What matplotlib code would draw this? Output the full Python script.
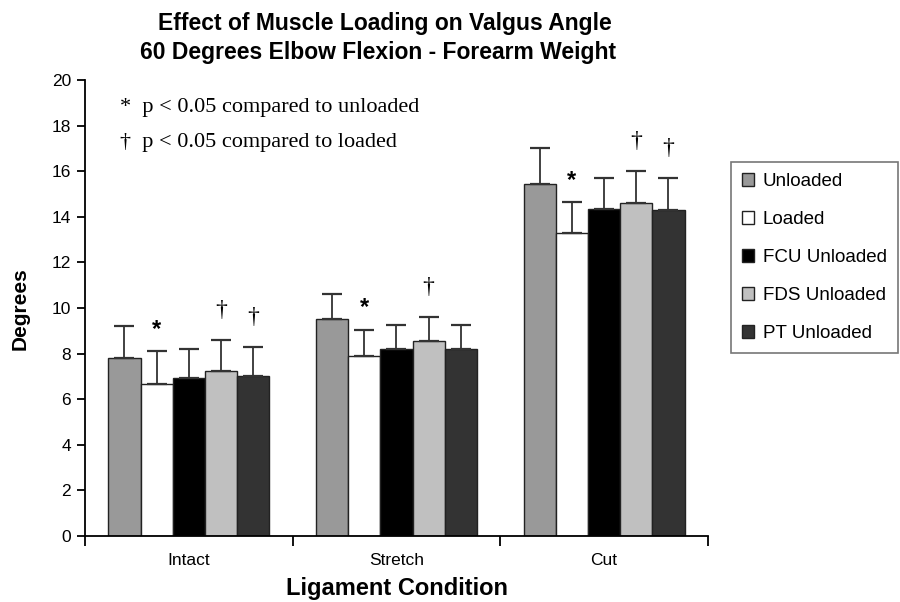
import matplotlib
matplotlib.use("Agg")
import matplotlib.pyplot as plt
import numpy as np

categories = ["Intact", "Stretch", "Cut"]
series = ["Unloaded", "Loaded", "FCU Unloaded", "FDS Unloaded", "PT Unloaded"]
means = {
    "Unloaded":     [7.8, 9.5, 15.45],
    "Loaded":       [6.65, 7.9, 13.3],
    "FCU Unloaded": [6.95, 8.2, 14.35],
    "FDS Unloaded": [7.25, 8.55, 14.6],
    "PT Unloaded":  [7.0, 8.2, 14.3],
}
errors = {
    "Unloaded":     [1.4, 1.1, 1.55],
    "Loaded":       [1.45, 1.15, 1.35],
    "FCU Unloaded": [1.25, 1.05, 1.35],
    "FDS Unloaded": [1.35, 1.05, 1.4],
    "PT Unloaded":  [1.3, 1.05, 1.4],
}
# significance markers: (category index, series index, symbol)
markers = [(0, 1, "*"), (0, 3, "†"), (0, 4, "†"),
           (1, 1, "*"), (1, 3, "†"),
           (2, 1, "*"), (2, 3, "†"), (2, 4, "†")]
colors = ["#999999", "#ffffff", "#000000", "#c0c0c0", "#333333"]
yticks = [0, 2, 4, 6, 8, 10, 12, 14, 16, 18, 20]

plt.rcParams['font.family'] = ['Liberation Sans', 'DejaVu Sans']

fig = plt.figure(figsize=(9, 6.02), dpi=100)
ax = fig.add_axes([0.0944, 0.1096, 0.6922, 0.7575])

x = np.arange(len(categories))
w = 0.155
for i, s in enumerate(series):
    pos = x + (i - 2) * w
    ax.bar(pos, means[s], width=w, color=colors[i], edgecolor="#222222",
           linewidth=1.0, label=s, zorder=2)
    ax.errorbar(pos, means[s], yerr=[np.zeros(3), errors[s]], fmt="none",
                ecolor="#333333", elinewidth=1.3, capsize=7, capthick=1.6, zorder=3)

for ci, si, sym in markers:
    top = means[series[si]][ci] + errors[series[si]][ci]
    if sym == "*":
        ax.text(x[ci] + (si - 2) * w, top + 0.95, sym, ha="center", va="center",
                fontsize=17, fontweight="bold", family=['Liberation Sans', 'DejaVu Sans'])
    else:
        ax.text(x[ci] + (si - 2) * w, top + 1.3, sym, ha="center", va="center",
                fontsize=17, family=['Liberation Serif', 'DejaVu Serif'])

ax.set_xlim(-0.5, 2.5)
ax.set_ylim(0, 20)
ax.set_yticks(yticks)
ax.set_xticks([-0.5, 0.5, 1.5, 2.5])
ax.set_xticklabels([])
ax.set_xticks(x, minor=True)
ax.set_xticklabels(categories, minor=True)
ax.tick_params(axis="x", which="minor", length=0, pad=12, labelsize=12.5)
ax.tick_params(axis="x", which="major", length=7, width=1.3, direction="out")
ax.tick_params(axis="y", length=6, width=1.3, direction="out", labelsize=12.5, pad=4)
for sp in ["top", "right"]:
    ax.spines[sp].set_visible(False)
for sp in ["left", "bottom"]:
    ax.spines[sp].set_linewidth(1.3)

fig.text(20 / 900, 0.488, "Degrees", rotation=90, ha="center", va="center",
         fontsize=15, fontweight="bold")
fig.text(0.4406, 1 - 588 / 602, "Ligament Condition", ha="center", va="center",
         fontsize=17, fontweight="bold")
fig.text(0.428, 1 - 23.5 / 602, "Effect of Muscle Loading on Valgus Angle",
         ha="center", va="center", fontsize=16.5, fontweight="bold")
fig.text(0.42, 1 - 52.5 / 602, "60 Degrees Elbow Flexion - Forearm Weight",
         ha="center", va="center", fontsize=16.5, fontweight="bold")

ax.text(0.056, 0.939, "*  p < 0.05 compared to unloaded", transform=ax.transAxes,
        fontsize=16, family=['Liberation Serif', 'DejaVu Serif'], va="center")
ax.text(0.056, 0.862, "†  p < 0.05 compared to loaded", transform=ax.transAxes,
        fontsize=16, family=['Liberation Serif', 'DejaVu Serif'], va="center")

leg = fig.legend(loc="upper left", bbox_to_anchor=(0.812, 0.731), fontsize=13.5,
                 frameon=True, fancybox=False, edgecolor="#555555",
                 handlelength=0.65, handleheight=0.65, handletextpad=0.45,
                 labelspacing=1.12, borderpad=0.6, borderaxespad=0)
leg.get_frame().set_linewidth(1.2)

fig.savefig("out.png", dpi=100)
